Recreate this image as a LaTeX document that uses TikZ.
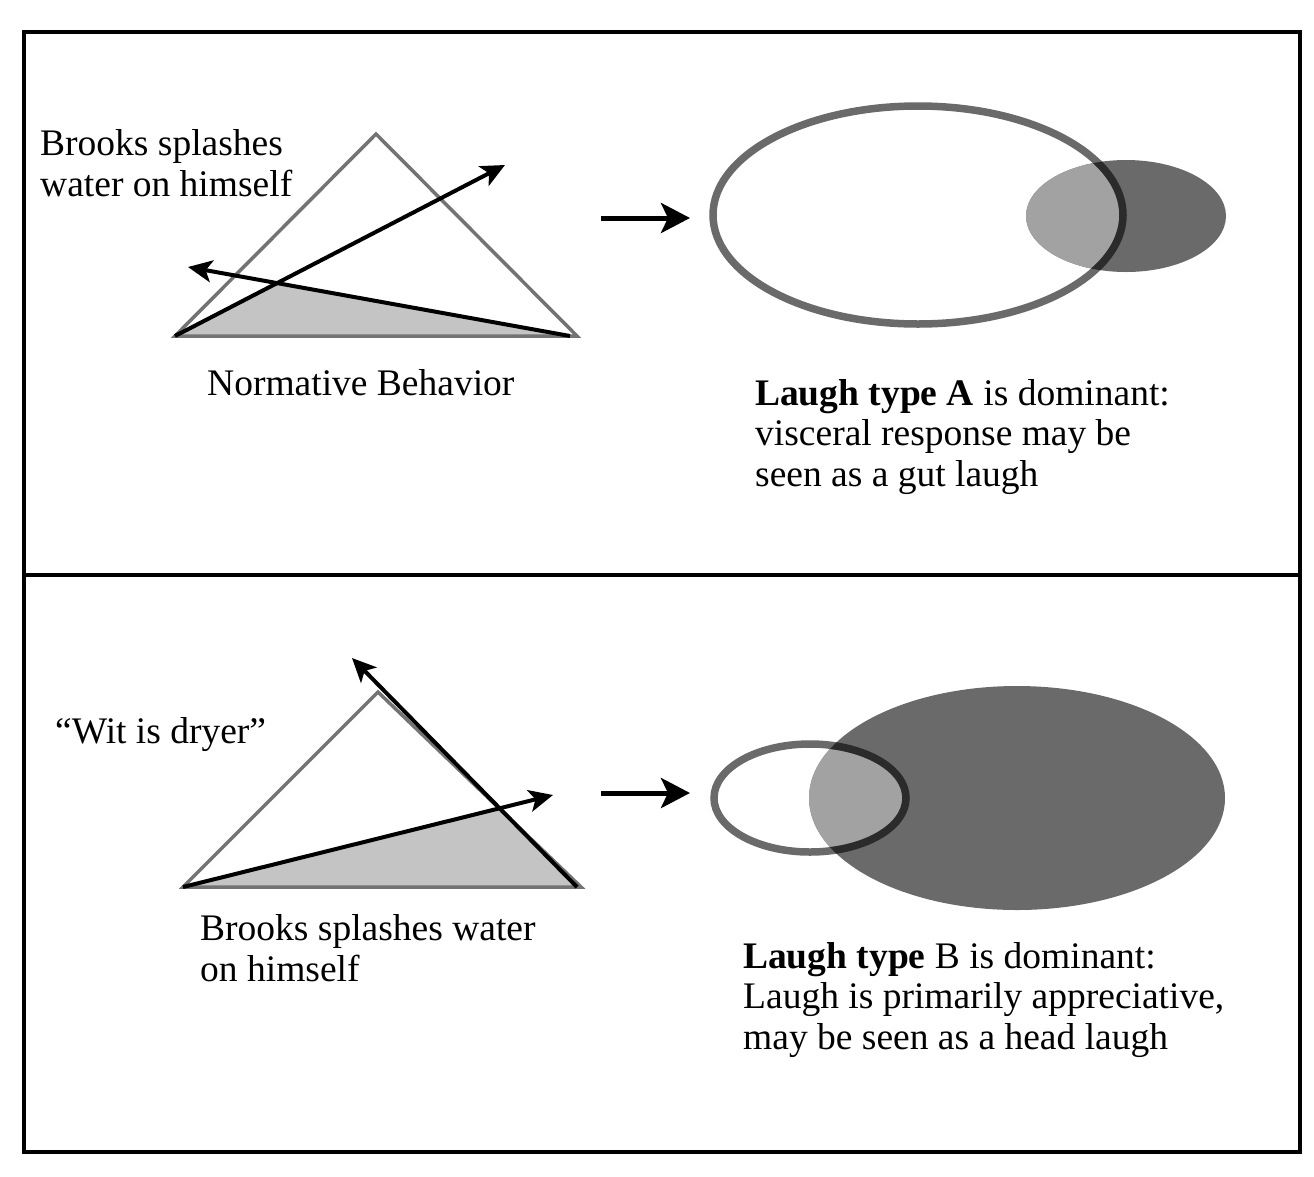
\documentclass[tikz,border=0pt]{standalone}
\usepackage{fontspec}
\setmainfont{Liberation Serif}
\usetikzlibrary{arrows.meta}
\definecolor{trigray}{HTML}{737373}
\definecolor{shadegray}{HTML}{C4C4C4}
\definecolor{ringgray}{HTML}{6A6A6A}
\definecolor{darkfill}{HTML}{6A6A6A}
\definecolor{midfill}{HTML}{A2A2A2}
\definecolor{darkring}{HTML}{2B2B2B}
\begin{document}
\begin{tikzpicture}[x=1pt,y=-1pt,
  frame/.style={line width=4.5pt, draw=black},
  tri/.style={draw=trigray, line width=3.5pt, line join=miter},
  shadearea/.style={fill=shadegray},
  vec/.style={line width=4pt, -{Stealth[length=24pt,width=22pt,inset=6pt]}},
  bigarrow/.style={line width=5pt, -{Stealth[length=29pt,width=30pt,inset=7pt]}},
  lbl/.style={anchor=base west, inner sep=0pt, align=left, font=\fontsize{37.5}{40.5}\selectfont},
  ring/.style={draw=ringgray, line width=7.5pt},
]
\useasboundingbox (0,0) rectangle (1314,1176);
% frame
\draw[frame] (24,32) rectangle (1300,1152);
\draw[frame] (24,575) -- (1300,575);

% ---------- top panel ----------
\coordinate (A1) at (376,134);
\coordinate (L1) at (175,336);
\coordinate (R1) at (577,336);
\coordinate (U1) at (505,165);
\coordinate (S1) at (570,336);
\coordinate (W1) at (188,267);
\fill[shadearea] (L1) -- (intersection of L1--U1 and S1--W1) -- (S1) -- cycle;
\draw[tri] (L1) -- (A1) -- (R1) -- cycle;
\draw[vec] (L1) -- (U1);
\draw[vec] (S1) -- (W1);

% multi-line nodes: base anchor = baseline of last line
\node[lbl] (t1) at (40,196) {Brooks splashes\\water on himself};
\node[lbl] (t2) at (207,395) {Normative Behavior};

\coordinate (a1s) at (601,218);
\coordinate (a1e) at (690,218);
\draw[bigarrow] (a1s) -- (a1e);

% ellipses top
\fill[darkfill] (1126,216) ellipse [x radius=100, y radius=56];
\begin{scope}
  \clip (1126,216) ellipse [x radius=100, y radius=56];
  \fill[midfill] (918,215) ellipse [x radius=205, y radius=109];
\end{scope}
\draw[ring] (918,215) ellipse [x radius=205, y radius=109];
\begin{scope}
  \clip (1126,216) ellipse [x radius=100, y radius=56];
  \draw[ring, draw=darkring] (918,215) ellipse [x radius=205, y radius=109];
\end{scope}

\node[lbl] (t3) at (755,486) {\textbf{Laugh type A} is dominant:\\visceral response may be\\seen as a gut laugh};

% ---------- bottom panel ----------
\coordinate (A2) at (378,692);
\coordinate (L2) at (183,887);
\coordinate (R2) at (581,887);
\coordinate (S2) at (577,887);
\coordinate (U2) at (352,658);
\coordinate (V2) at (553,795);
\fill[shadearea] (L2) -- (intersection of L2--V2 and S2--U2) -- (R2) -- cycle;
\draw[tri] (L2) -- (A2) -- (R2) -- cycle;
\draw[vec] (S2) -- (U2);
\draw[vec] (L2) -- (V2);

\node[lbl] (t4) at (55,743) {``Wit is dryer''};
\node[lbl] (t5) at (200,981) {Brooks splashes water\\on himself};

\coordinate (a2s) at (601,793);
\coordinate (a2e) at (690,793);
\draw[bigarrow] (a2s) -- (a2e);

\fill[darkfill] (1017,798) ellipse [x radius=208, y radius=112];
\begin{scope}
  \clip (1017,798) ellipse [x radius=208, y radius=112];
  \fill[midfill] (810,798) ellipse [x radius=96, y radius=54];
\end{scope}
\draw[ring] (810,798) ellipse [x radius=96, y radius=54];
\begin{scope}
  \clip (1017,798) ellipse [x radius=208, y radius=112];
  \draw[ring, draw=darkring] (810,798) ellipse [x radius=96, y radius=54];
\end{scope}

\node[lbl] (t6) at (743,1049) {\textbf{Laugh type} B is dominant:\\Laugh is primarily appreciative,\\may be seen as a head laugh};
\end{tikzpicture}
\end{document}
